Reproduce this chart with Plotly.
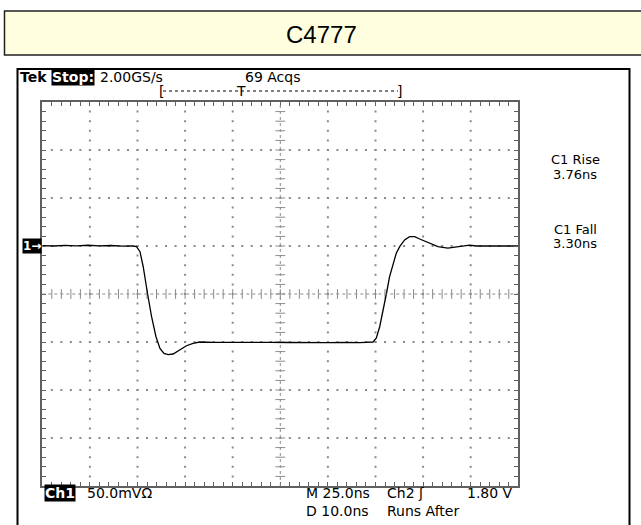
import plotly.graph_objects as go
import numpy as np

# ---------------- data ----------------
time_ns = [0, 6, 12, 18, 24, 30, 36, 42, 47.7, 49.5, 51.3, 53.0, 55.3, 57.4, 59.7, 61.8,
           63.9, 66.1, 68.7, 72.2, 75.7, 79.2, 82.7, 90, 100, 110, 120, 130, 140, 150,
           160, 166.7, 173.7, 175.4, 177.2, 178.9, 180.7, 182.4, 184.2, 185.9, 187.7,
           190.3, 192.9, 195.6, 198.2, 201.7, 205.1, 207.8, 213.0, 217.4, 224.4, 227.9,
           235, 242, 250]
volt_mv = [50.3, 50.0, 50.6, 50.2, 50.8, 50.1, 50.5, 49.8, 50.0, 49.3, 44.1, 28.4, 0.0,
           -23.6, -44.5, -56.6, -61.8, -63.2, -62.5, -58.3, -53.9, -51.4, -50.0, -50.4,
           -50.2, -50.6, -50.3, -50.5, -50.2, -50.6, -50.4, -50.7, -50.0, -46.1, -34.1,
           -18.4, 0.0, 18.1, 32.0, 42.4, 49.3, 56.3, 59.7, 59.7, 57.3, 54.5, 51.0, 49.3,
           47.9, 49.3, 51.0, 50.0, 50.0, 50.0, 50.0]

title_text = "C4777"
header_texts = ["Tek", "Stop:", "2.00GS/s", "69 Acqs"]
meas_rise = ["C1 Rise", "3.76ns"]
meas_fall = ["C1 Fall", "3.30ns"]
footer_line1 = ["Ch1", "50.0mV\u03a9", "M 25.0ns", "Ch2 \u0283", "1.80 V"]
footer_line2 = ["D 10.0ns", "Runs After"]

# ---------------- geometry ----------------
W, H = 641, 525
def px(x):
    return x / W
def py(y):
    return 1 - y / H

GL, GR, GT, GB = 42.3, 518.3, 102.0, 486.0   # graticule in pixels
XDIV, YDIV = 25.0, 50.0                        # ns/div, mV/div
X0, X1 = 0.0, 10 * XDIV
Y0, Y1 = -4 * YDIV, 4 * YDIV

GRID = "#8a8a8a"
BORDER = "#606060"
FONT = "DejaVu Sans"

fig = go.Figure()

# grid dots (minor positions along the major division lines)
gx, gy = [], []
for k in range(1, 10):
    if k == 5:
        continue
    for yy in np.arange(Y0 + 10, Y1, 10):
        gx.append(k * XDIV); gy.append(yy)
for j in range(-3, 4):
    if j == 0:
        continue
    for xx in np.arange(X0 + 5, X1, 5):
        gx.append(xx); gy.append(j * YDIV)
fig.add_trace(go.Scatter(x=gx, y=gy, mode="markers",
                         marker=dict(symbol="square", size=2, color=GRID, line=dict(width=0)),
                         hoverinfo="skip", showlegend=False))

# center cross lines with ticks
fig.add_shape(type="line", x0=125, x1=125, y0=Y0, y1=Y1, xref="x", yref="y",
              line=dict(color=GRID, width=1, dash="dot"))
fig.add_shape(type="line", x0=X0, x1=X1, y0=0, y1=0, xref="x", yref="y",
              line=dict(color=GRID, width=1, dash="dot"))
cy = np.arange(Y0 + 10, Y1, 10)
fig.add_trace(go.Scatter(x=[125] * len(cy), y=cy, mode="markers",
                         marker=dict(symbol="line-ew", size=7, line=dict(width=1, color=GRID)),
                         hoverinfo="skip", showlegend=False))
cx = np.arange(X0 + 5, X1, 5)
fig.add_trace(go.Scatter(x=cx, y=[0] * len(cx), mode="markers",
                         marker=dict(symbol="line-ns", size=7, line=dict(width=1, color=GRID)),
                         hoverinfo="skip", showlegend=False))

# waveform
fig.add_trace(go.Scatter(x=time_ns, y=volt_mv, mode="lines",
                         line=dict(color="black", width=1.3),
                         hoverinfo="skip", showlegend=False))

fig.update_layout(
    width=W, height=H,
    margin=dict(l=0, r=0, t=0, b=0),
    paper_bgcolor="white", plot_bgcolor="white",
    xaxis=dict(domain=[px(GL), px(GR)], range=[X0, X1], showgrid=False, zeroline=False,
               showline=True, linecolor=BORDER, linewidth=2, mirror="ticks",
               ticks="inside", ticklen=4, tickwidth=1, tickcolor=BORDER,
               tick0=0, dtick=5, showticklabels=False, fixedrange=True),
    yaxis=dict(domain=[py(GB), py(GT)], range=[Y0, Y1], showgrid=False, zeroline=False,
               showline=True, linecolor=BORDER, linewidth=2, mirror="ticks",
               ticks="inside", ticklen=4, tickwidth=1, tickcolor=BORDER,
               tick0=0, dtick=10, showticklabels=False, fixedrange=True),
)

# title box
fig.add_shape(type="rect", xref="paper", yref="paper",
              x0=px(4.5), x1=px(660), y0=py(11), y1=py(55),
              fillcolor="#FFFFE0", line=dict(color="#202020", width=1.5), layer="below")
fig.add_annotation(xref="paper", yref="paper", x=px(322), y=py(35), text=title_text,
                   showarrow=False, xanchor="center", yanchor="middle",
                   font=dict(family="Liberation Sans, Arial", size=24, color="black"))

# scope outer frame
fig.add_shape(type="rect", xref="paper", yref="paper",
              x0=px(17.5), x1=px(629.5), y0=py(560), y1=py(69),
              line=dict(color="black", width=2), layer="below")

def txt(x, y, s, inv=False, size=14, anchor="left"):
    fig.add_annotation(xref="paper", yref="paper", x=px(x), y=py(y), text=s,
                       showarrow=False, xanchor=anchor, yanchor="middle",
                       font=dict(family=FONT, size=size, color="white" if inv else "black"),
                       bgcolor="black" if inv else None, borderpad=0)

# header
txt(19, 77, "<b>" + header_texts[0] + "</b>")
txt(51, 77, "<b>" + header_texts[1] + "</b>", inv=True)
txt(99, 77, header_texts[2])
txt(244, 77, header_texts[3])
# trigger bracket
txt(158, 91, "[")
txt(396, 91, "]")
txt(235, 91, "T")
fig.add_shape(type="line", xref="paper", yref="paper", x0=px(163), x1=px(398),
              y0=py(91), y1=py(91), line=dict(color="black", width=1, dash="dot"))

# channel ground marker
fig.add_annotation(xref="paper", yref="y", x=px(31.5), y=50, text="<b>1\u2192</b>", showarrow=False,
                   xanchor="center", yanchor="middle",
                   font=dict(family=FONT, size=12, color="white"), bgcolor="black", borderpad=0)

# measurements
txt(575, 159, meas_rise[0], size=13, anchor="center")
txt(575, 174, meas_rise[1], size=13, anchor="center")
txt(575, 229, meas_fall[0], size=13, anchor="center")
txt(575, 244, meas_fall[1], size=13, anchor="center")

# footer
txt(44, 493, "<b>" + footer_line1[0] + "</b>", inv=True)
txt(86, 493, footer_line1[1])
txt(305, 493, footer_line1[2])
txt(386, 493, footer_line1[3])
txt(466, 493, footer_line1[4])
txt(305, 511, footer_line2[0])
txt(386, 511, footer_line2[1])

fig.write_html("out.html", config={"displayModeBar": False},
               post_script="document.body.style.margin='0px';document.body.style.overflow='hidden';")
